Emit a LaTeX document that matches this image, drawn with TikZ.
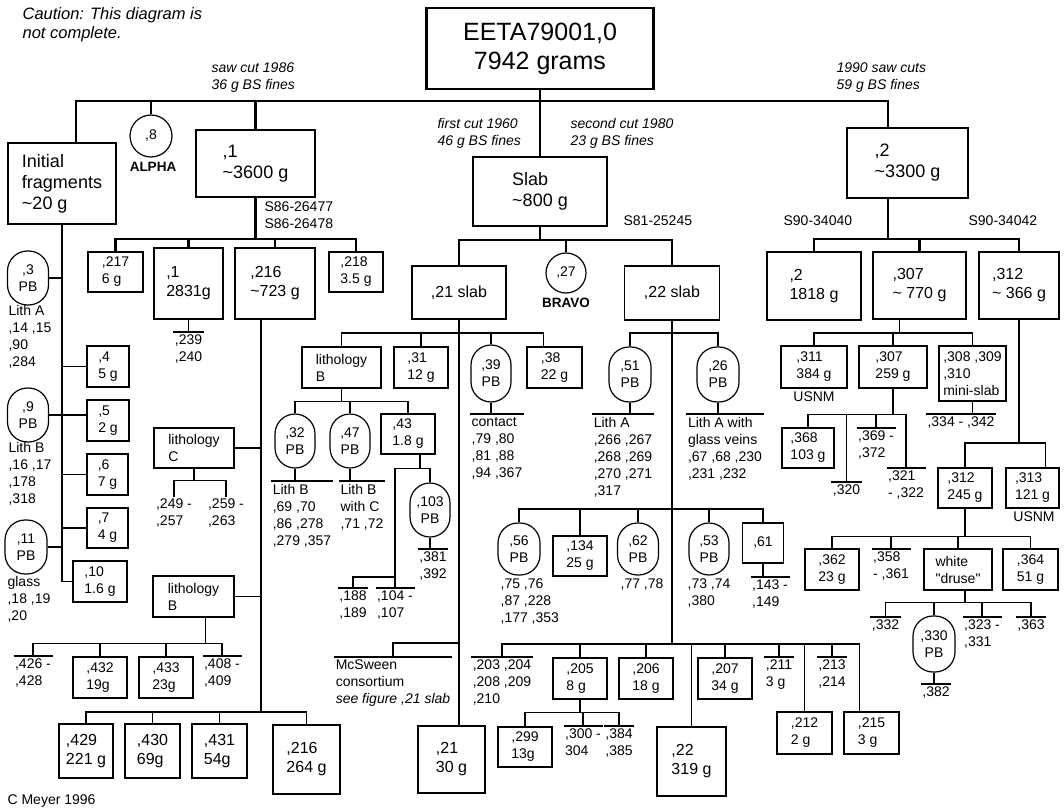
\documentclass[tikz,border=0pt]{standalone}
\usepackage{fontspec}
\setmainfont{Liberation Sans}
\usepackage{tikz}

\newcommand{\fhuge}{\fontsize{25}{29}\selectfont}
\newcommand{\fbig}{\fontsize{18}{21}\selectfont}
\newcommand{\fmid}{\fontsize{16}{19}\selectfont}
\newcommand{\fsmall}{\fontsize{14}{17}\selectfont}
\newcommand{\fnote}{\fontsize{14}{17}\selectfont\itshape}
\newcommand{\fcaution}{\fontsize{16.5}{19}\selectfont\itshape}
\newcommand{\ftag}{\fontsize{13.5}{15}\selectfont\bfseries}

\tikzset{
  box/.style={draw, line width=1.2pt, inner sep=0pt, align=left, font=\fsmall,
    minimum width=54pt, minimum height=41pt},
  bigbox/.style={box, line width=2.6pt},
  pb/.style={draw, line width=1.2pt, rounded corners=20pt, inner sep=0pt, align=center,
    font=\fsmall, minimum width=41pt, minimum height=54pt},
  lbl/.style={inner sep=1pt, align=left, font=\fsmall},
  ol/.style={lbl, inner ysep=2.5pt,
    append after command={(\tikzlastnode.north west) edge (\tikzlastnode.north east)}},
  note/.style={inner sep=0pt, align=left, font=\fnote},
  tag/.style={inner sep=0pt, font=\ftag},
  mainconn/.style={line width=2.2pt},
}

\begin{document}
\begin{tikzpicture}[x=1pt,y=-1pt,line width=1.2pt]
\fill[white] (0,0) rectangle (1064,810);
\useasboundingbox (0,0) rectangle (1064,810);

% top
\node[note, font=\fcaution, anchor=west] (caution) at (22,25) {Caution: This diagram is\\not complete.};
\node[box, font=\fhuge, align=center, line width=2.8pt, minimum width=227pt, minimum height=81pt] (root) at (540,48.5) {EETA79001,0\\7942 grams};
\node[note, anchor=west] (cut86) at (211,78) {saw cut 1986\\36 g BS fines};
\node[note, anchor=west] (cut90) at (836,78) {1990 saw cuts\\59 g BS fines};
\node[note, anchor=west] (cut60) at (437,133) {first cut 1960\\46 g BS fines};
\node[note, anchor=west] (cut80) at (570,133) {second cut 1980\\23 g BS fines};

\node[box, font=\fbig, line width=1.8pt, minimum width=108pt, minimum height=81pt] (init) at (62,183.5) {Initial\\fragments\\\textasciitilde 20 g};
\node[circle, draw, minimum size=42pt, inner sep=0pt, font=\fsmall] (c8) at (151,136) {,8};
\node[tag] (alpha) at (153,167) {ALPHA};
\node[bigbox, font=\fbig, minimum width=119pt, minimum height=67pt] (n1) at (255.5,163.5) {,1\\\textasciitilde 3600 g};
\node[bigbox, font=\fbig, minimum width=134pt, minimum height=69pt] (slab) at (540,191.5) {Slab\\\textasciitilde 800 g};
\node[bigbox, font=\fbig, minimum width=121pt, minimum height=70pt] (n2) at (907.5,163) {,2\\\textasciitilde 3300 g};

\node[lbl, anchor=west] (s86) at (263,215) {S86-26477\\S86-26478};
\node[lbl, anchor=west] (s81) at (622,221) {S81-25245};
\node[lbl, anchor=west] (s90a) at (782,221) {S90-34040};
\node[lbl, anchor=west] (s90b) at (967,221) {S90-34042};

\coordinate (tl) at (76,101);
\coordinate (tr) at (888,101);
\draw[mainconn] (tl |- init.north) -- (tl) -- (tr) -- (tr |- n2.north);
\draw[mainconn] (root.south) -- (slab.north);
\draw (c8.north) -- (c8.north |- tl);
\draw[mainconn] (n1.north) -- (n1.north |- tl);

% initial fragments
\node[pb] (pb3) at (28,278) {,3\\PB};
\node[lbl, anchor=north west] (lith3) at (7,304) {Lith A\\,14 ,15\\,90\\,284};
\node[box, minimum width=42pt] (n4) at (108,366.5) {,4\\5 g};
\node[pb] (pb9) at (28,415) {,9\\PB};
\node[lbl, anchor=north west] (lith9) at (7,441) {Lith B\\,16 ,17\\,178\\,318};
\node[box, minimum width=42pt] (n5) at (108,420.5) {,5\\2 g};
\node[box, minimum width=41pt] (n6) at (107.5,474.5) {,6\\7 g};
\node[box, minimum width=41pt, minimum height=40pt] (n7) at (107.5,528) {,7\\4 g};
\node[pb, minimum width=42pt] (pb11) at (26,547) {,11\\PB};
\node[lbl, anchor=north west] (lith11) at (6,575) {glass\\,18 ,19\\,20};
\node[box] (n10) at (100,581.5) {,10\\1.6 g};
\draw (init.south) |- (n10.west);
\draw (pb3.east) -- (pb3.east -| init.south);
\draw (n4.west) -- (n4.west -| init.south);
\draw (pb9.east) -- (pb9.east -| n5.west);
\draw (n6.west) -- (n6.west -| init.south);
\draw (n7.west) -- (n7.west -| init.south);
\draw (pb11.east) -- (pb11.east -| init.south);

% ,1
\node[box, minimum width=55pt, minimum height=40pt] (n217) at (115.5,272) {,217\\6 g};
\node[bigbox, font=\fmid, minimum width=69pt, minimum height=71pt] (n1b) at (188.5,283.5) {,1\\2831g};
\node[bigbox, font=\fmid, minimum width=80pt, minimum height=71pt] (n216) at (275,283.5) {,216\\\textasciitilde 723 g};
\node[box, minimum height=40pt] (n218) at (356,272) {,218\\3.5 g};
\draw[mainconn] (n1.south) -- ++(0,41) -| (n217.north);
\draw[mainconn] (n1.south) -- ++(0,41) -| (n1b.north);
\draw[mainconn] (n1.south) -- ++(0,41) -| (n216.north);
\draw[mainconn] (n1.south) -- ++(0,41) -| (n218.north);
\node[ol, anchor=north] (l239) at (188.5,332) {,239\\,240};
\draw (n1b.south) -- (l239.north);

% ,216
\coordinate (v216) at (261,712);
\draw (v216 |- n216.south) -- (v216);
\node[box, minimum width=80pt, minimum height=40pt] (litC) at (194,448) {lithology\\C};
\draw (litC.east) -- (litC.east -| v216);
\node[lbl, anchor=north] (l249) at (174,497) {,249 -\\,257};
\node[lbl, anchor=north] (l259) at (226,497) {,259 -\\,263};
\draw (litC.south) -- ++(0,12) -| (l249.north);
\draw (litC.south) -- ++(0,12) -| (l259.north);
\node[box, minimum width=81pt] (litBl) at (193.5,596.5) {lithology\\B};
\draw (litBl.east) -- (litBl.east -| v216);
\node[ol, anchor=north] (l426) at (33,656) {,426 -\\,428};
\node[box] (n432) at (100,677.5) {,432\\19g};
\node[box] (n433) at (166,677.5) {,433\\23g};
\node[ol, anchor=north] (l408) at (222,656) {,408 -\\,409};
\draw ([xshift=12pt]litBl.south) -- ++(0,26) -| (l426.north);
\draw ([xshift=12pt]litBl.south) -- ++(0,26) -| (n432.north);
\draw ([xshift=12pt]litBl.south) -- ++(0,26) -| (n433.north);
\draw ([xshift=12pt]litBl.south) -- ++(0,26) -| (l408.north);
\node[box, font=\fmid, minimum height=54pt] (n429) at (86,751) {,429\\221 g};
\node[box, font=\fmid, minimum width=55pt, minimum height=54pt] (n430) at (152.5,751) {,430\\69g};
\node[box, font=\fmid, minimum width=55pt, minimum height=54pt] (n431) at (219.5,751) {,431\\54g};
\node[bigbox, font=\fmid, minimum width=67pt, minimum height=69pt] (n216b) at (306.5,759.5) {,216\\264 g};
\draw (v216) -| (n429.north);
\draw (v216) -| (n430.north);
\draw (v216) -| (n431.north);
\draw (v216) -| (n216b.north);
\node[lbl, anchor=west] (meyer) at (6,801) {C Meyer 1996};

% slab
\node[box, font=\fmid, line width=1.8pt, minimum width=94pt, minimum height=53pt] (s21) at (459,292.5) {,21 slab};
\node[circle, draw, minimum size=40pt, inner sep=0pt, font=\fsmall] (c27) at (566,273) {,27};
\node[tag] (bravo) at (566,303) {BRAVO};
\node[box, font=\fmid, line width=1.8pt, minimum width=95pt, minimum height=54pt] (s22) at (672,293) {,22 slab};
\draw[mainconn] (slab.south) -- ++(0,13) -| (s21.north);
\draw[mainconn] (slab.south) -- ++(0,13) -| (c27.north);
\draw[mainconn] (slab.south) -- ++(0,13) -| (s22.north);

% ,21 slab
\node[box, minimum width=79pt] (litBu) at (341.5,367.5) {lithology\\B};
\node[box] (n31) at (421,367.5) {,31\\12 g};
\node[pb, minimum width=40pt, minimum height=57pt] (pb39) at (491,373.5) {,39\\PB};
\node[box, minimum width=55pt] (n38) at (554.5,367.5) {,38\\22 g};
\node[box, font=\fmid, minimum width=67pt, minimum height=67pt] (n21b) at (451.5,759.5) {,21\\30 g};
\draw (s21.south) -- ++(0,13) -| (litBu.north);
\draw (s21.south) -- ++(0,13) -| (n31.north);
\draw (s21.south) -- ++(0,13) -| (pb39.north);
\draw (s21.south) -- ++(0,13) -| ([xshift=-11pt]n38.north);
\draw (s21.south) -- (s21.south |- n21b.north);
\node[ol, anchor=north] (lcon) at (497,414) {contact\\,79 ,80\\,81 ,88\\,94 ,367};
\draw (pb39.south) -- (pb39.south |- lcon.north);

\node[pb, minimum width=40pt] (pb32) at (295,441) {,32\\PB};
\node[pb, minimum width=40pt] (pb47) at (350,441) {,47\\PB};
\node[box, minimum height=40pt] (n43) at (408,434) {,43\\1.8 g};
\draw (litBu.south) -- ++(0,13) -| (pb32.north);
\draw (litBu.south) -- ++(0,13) -| (pb47.north);
\draw (litBu.south) -- ++(0,13) -| (n43.north);
\node[ol, anchor=north] (l69) at (302,481) {Lith B\\,69 ,70\\,86 ,278\\,279 ,357};
\draw (pb32.south) -- (pb32.south |- l69.north);
\node[ol, anchor=north] (l71) at (362,481) {Lith B\\with C\\,71 ,72};
\draw (pb47.south) -- (pb47.south |- l71.north);

\node[pb, minimum width=40pt] (pb103) at (430,510) {,103\\PB};
\node[ol, anchor=north] (l381) at (433,549) {,381\\,392};
\draw (pb103.south) -- (pb103.south |- l381.north);
\node[ol, anchor=north] (l104) at (395,588) {,104 -\\,107};
\node[ol, anchor=north] (l188) at (353,588) {,188\\,189};
\draw ([xshift=12pt]n43.south) -- ++(0,14) -| (pb103.north);
\draw ([xshift=12pt]n43.south) -- ++(0,14) -| (l104.north);
\draw (l188.north) -- ++(0,-11) -| (l104.north);

\node[ol, anchor=north] (lmcs) at (393,657) {McSween\\consortium\\\textit{see figure ,21 slab}};
\draw (lmcs.north) -- ++(0,-14) -| (s21.south);

% ,22 slab
\node[pb, minimum width=42pt, minimum height=55pt] (pb51) at (630,374.5) {,51\\PB};
\node[pb, minimum width=42pt, minimum height=55pt] (pb26) at (718,374.5) {,26\\PB};
\draw (s22.south) -- ++(0,12) -| (pb51.north);
\draw (s22.south) -- ++(0,12) -| (pb26.north);
\node[ol, anchor=north] (l266) at (623,414) {Lith A\\,266 ,267\\,268 ,269\\,270 ,271\\,317};
\draw (pb51.south) -- (pb51.south |- l266.north);
\node[ol, anchor=north] (l67) at (725,414) {Lith A with\\glass veins\\,67 ,68 ,230\\,231 ,232};
\draw (pb26.south) -- (pb26.south |- l67.north);

\node[pb, minimum width=42pt, minimum height=52pt] (pb56) at (519,549) {,56\\PB};
\node[box, minimum height=40pt] (n134) at (580,556) {,134\\25 g};
\node[pb, minimum width=41pt, minimum height=52pt] (pb62) at (638,549) {,62\\PB};
\node[pb, minimum width=40pt, minimum height=52pt] (pb53) at (709,549) {,53\\PB};
\node[box, minimum width=41pt, minimum height=40pt] (n61) at (763,543) {,61};
\draw (s22.south) -- ++(0,188) -| (pb56.north);
\draw (s22.south) -- ++(0,188) -| (n134.north);
\draw (s22.south) -- ++(0,188) -| (pb62.north);
\draw (s22.south) -- ++(0,188) -| (pb53.north);
\draw (s22.south) -- ++(0,188) -| (n61.north);
\node[lbl, anchor=north west] (l75) at (499,577) {,75 ,76\\,87 ,228\\,177 ,353};
\node[lbl, anchor=north west] (l77) at (619,577) {,77 ,78};
\node[lbl, anchor=north west] (l73) at (686,577) {,73 ,74\\,380};
\node[ol, anchor=north] (l143) at (770,577) {,143 -\\,149};
\draw (n61.south) -- (n61.south |- l143.north);

\node[ol, anchor=north] (l203) at (502,657) {,203 ,204\\,208 ,209\\,210};
\node[box] (n205) at (580,678.5) {,205\\8 g};
\node[box] (n206) at (646,678.5) {,206\\18 g};
\node[bigbox, font=\fmid, minimum width=69pt, minimum height=69pt] (n22b) at (691.5,761.5) {,22\\319 g};
\node[box] (n207) at (725,678.5) {,207\\34 g};
\node[ol, anchor=north] (l211) at (779,657) {,211\\3 g};
\node[box, minimum width=55pt, minimum height=42pt] (n212) at (804.5,733) {,212\\2 g};
\node[ol, anchor=north] (l213) at (832,657) {,213\\,214};
\node[box, minimum width=55pt, minimum height=42pt] (n215) at (871.5,733) {,215\\3 g};
\draw (s22.south) -- ++(0,323) -| (l203.north);
\draw (s22.south) -- ++(0,323) -| (n205.north);
\draw (s22.south) -- ++(0,323) -| (n206.north);
\draw (s22.south) -- ++(0,323) -| (n22b.north);
\draw (s22.south) -- ++(0,323) -| (n207.north);
\draw (s22.south) -- ++(0,323) -| (l211.north);
\draw (s22.south) -- ++(0,323) -| (n212.north);
\draw (s22.south) -- ++(0,323) -| (l213.north);
\draw (s22.south) -- ++(0,323) -| ([xshift=-12pt]n215.north);

\node[box, minimum height=40pt] (n299) at (525,747) {,299\\13g};
\node[ol, anchor=north] (l300) at (583,726) {,300 -\\304};
\node[ol, anchor=north] (l384) at (619,726) {,384\\,385};
\draw (n205.south) -- ++(0,13) -| (n299.north);
\draw (n205.south) -- ++(0,13) -| (l300.north);
\draw (n205.south) -- ++(0,13) -| (l384.north);

% ,2
\node[bigbox, font=\fmid, minimum width=94pt, minimum height=68pt] (n2c) at (814,286) {,2\\1818 g};
\node[box, font=\fmid, line width=1.8pt, minimum width=93pt, minimum height=67pt] (n307) at (919.5,285.5) {,307\\\textasciitilde\ 770 g};
\node[box, font=\fmid, line width=1.8pt, minimum width=80pt, minimum height=67pt] (n312) at (1019,285.5) {,312\\\textasciitilde\ 366 g};
\draw[mainconn] (tr |- n2.south) -- ++(0,40) -| (n2c.north);
\draw[mainconn] (tr |- n2.south) -- ++(0,40) -| (n307.north);
\draw[mainconn] (tr |- n2.south) -- ++(0,40) -| (n312.north);

\node[bigbox, minimum width=66pt, minimum height=42pt] (n311) at (814,367) {,311\\384 g};
\node[lbl] (usnm1) at (814,397) {USNM};
\node[box, minimum width=68pt, minimum height=42pt] (n307b) at (893,367) {,307\\259 g};
\node[box, minimum width=67pt, minimum height=55pt] (n308) at (972.5,373.5) {,308 ,309\\,310\\mini-slab};
\draw ([xshift=-20pt]n307.south) -- ++(0,13) -| (n311.north);
\draw ([xshift=-20pt]n307.south) -- ++(0,13) -| (n307b.north);
\draw ([xshift=-20pt]n307.south) -- ++(0,13) -| (n308.north);
\node[ol, anchor=north] (l334) at (961,414) {,334 - ,342};
\draw (n308.south) -- (n308.south |- l334.north);

\node[box, minimum width=52pt, minimum height=40pt] (n368) at (808,448) {,368\\103 g};
\node[ol, anchor=north] (l320) at (846.5,482) {,320};
\node[ol, anchor=north] (l369) at (876,428) {,369 -\\,372};
\node[ol, anchor=north] (l321) at (906,468) {,321\\- ,322};
\draw (n307b.south) -- ++(0,26) -| (n368.north);
\draw (n307b.south) -- ++(0,26) -| (l320.north);
\draw (n307b.south) -- ++(0,26) -| (l369.north);
\draw (n307b.south) -- ++(0,26) -| (l321.north);

\node[box, minimum height=40pt] (n312b) at (965,488) {,312\\245 g};
\node[bigbox, minimum width=53pt, minimum height=40pt] (n313) at (1032.5,488) {,313\\121 g};
\node[lbl] (usnm2) at (1034,517) {USNM};
\draw (n312.south) -- ++(0,123) -| (n312b.north);
\draw (n312.south) -- ++(0,123) -| ([xshift=13pt]n313.north);

\node[box] (n362) at (832,569.5) {,362\\23 g};
\node[ol, anchor=north] (l358) at (891,549) {,358\\- ,361};
\node[box, minimum width=68pt] (druse) at (958,569.5) {white\\\textquotedbl druse\textquotedbl};
\node[box, minimum width=55pt] (n364) at (1030.5,569.5) {,364\\51 g};
\draw (n312b.south) -- ++(0,28) -| (n362.north);
\draw (n312b.south) -- ++(0,28) -| (l358.north);
\draw (n312b.south) -- ++(0,28) -| (druse.north);
\draw (n312b.south) -- ++(0,28) -| (n364.north);

\node[ol, anchor=north] (l332) at (885.5,617) {,332};
\node[pb, minimum width=42pt, minimum height=56pt] (pb330) at (934,644) {,330\\PB};
\node[ol, anchor=north] (l323) at (982,617) {,323 -\\,331};
\node[ol, anchor=north] (l363) at (1031,617) {,363};
\draw ([xshift=7pt]druse.south) -- ++(0,12) -| (l332.north);
\draw ([xshift=7pt]druse.south) -- ++(0,12) -| (pb330.north);
\draw ([xshift=7pt]druse.south) -- ++(0,12) -| (l323.north);
\draw ([xshift=7pt]druse.south) -- ++(0,12) -| (l363.north);
\node[ol, anchor=north] (l382) at (936,684) {,382};
\draw (pb330.south) -- (pb330.south |- l382.north);
\end{tikzpicture}
\end{document}
